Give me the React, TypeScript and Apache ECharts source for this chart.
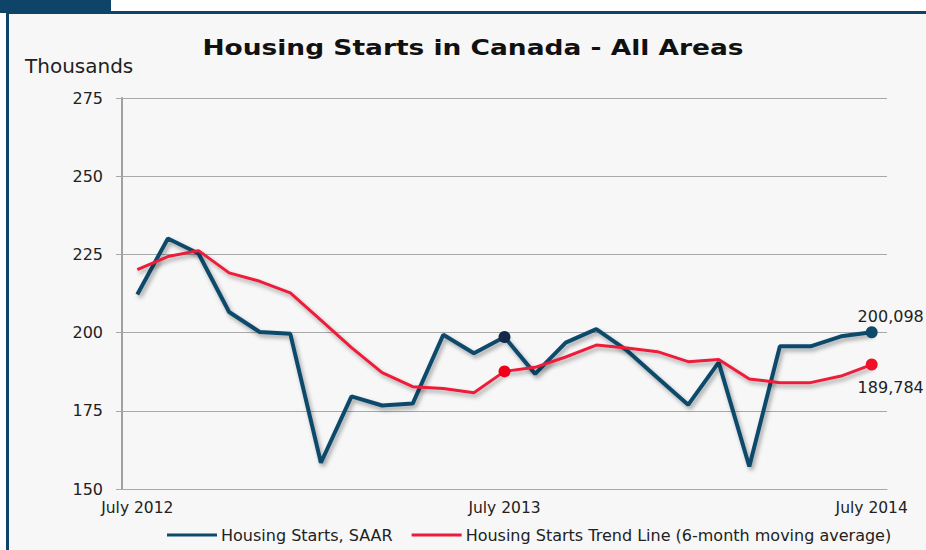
import React, { useEffect, useRef } from "react";
import * as echarts from "echarts";

const months = ["July", "Aug", "Sep", "Oct", "Nov", "Dec", "Jan", "Feb", "Mar", "Apr", "May", "June"];
const categories: string[] = [];
for (let i = 0; i < 25; i++) {
  const m = i % 12;
  const y = 2012 + Math.floor((i + 6) / 12);
  categories.push(`${months[m]} ${y}`);
}

const saar = [212.2, 230.1, 225.3, 206.6, 200.2, 199.6, 158.4, 179.6, 176.7, 177.3, 199.3, 193.4, 198.6, 186.8, 196.8, 201.1, 194.3, 185.6, 176.9, 190.5, 157.2, 195.6, 195.6, 198.8, 200.098];
const trend = [220.1, 224.3, 226.2, 219.1, 216.4, 212.7, 204.0, 195.2, 187.2, 182.7, 182.1, 180.8, 187.6, 188.9, 192.2, 196.0, 195.1, 193.9, 190.7, 191.4, 185.2, 184.0, 184.0, 186.1, 189.784];

const markedIdx = [12, 24];
const FONT = "DejaVu Sans";
const BLUE = "#0e4a6b";
const RED = "#ee1b3a";

const fmt = (v: number) => Math.round(v * 1000).toLocaleString("en-US");

function buildData(vals: number[], dotColors: string[], labelPos: "top" | "bottom") {
  return vals.map((v, i) => {
    const k = markedIdx.indexOf(i);
    if (k < 0) return v;
    const item: any = {
      value: v,
      symbol: "circle",
      symbolSize: 12,
      itemStyle: { color: dotColors[k] },
    };
    if (i === vals.length - 1) {
      item.label = {
        show: true,
        position: labelPos,
        offset: [19, labelPos === "top" ? 3 : 4],
        formatter: () => fmt(v),
        fontFamily: FONT,
        fontSize: 16,
        color: "#222",
      };
    }
    return item;
  });
}

export default function App() {
  const ref = useRef<HTMLDivElement>(null);
  useEffect(() => {
    if (!ref.current) return;
    const chart = echarts.init(ref.current, null, { renderer: "svg" });
    const shadow = {
      shadowColor: "rgba(0,0,0,0.35)",
      shadowBlur: 4,
      shadowOffsetX: 2,
      shadowOffsetY: 3,
    };
    chart.setOption({
      animation: false,
      backgroundColor: "#ffffff",
      graphic: [
        { type: "rect", z: -10, shape: { x: 7, y: 12, width: 930, height: 550 }, style: { fill: "#f7f7f7" }, silent: true },
        { type: "rect", z: -9, shape: { x: 0, y: 0, width: 111, height: 13 }, style: { fill: "#0d4468" }, silent: true },
        { type: "rect", z: -9, shape: { x: 6, y: 11, width: 930, height: 3 }, style: { fill: "#0d4468" }, silent: true },
        { type: "rect", z: -9, shape: { x: 6, y: 11, width: 3, height: 560 }, style: { fill: "#0d4468" }, silent: true },
        {
          type: "text",
          x: 473,
          y: 48,
          scaleX: 1.26,
          style: {
            text: "Housing Starts in Canada - All Areas",
            fontFamily: FONT,
            fontWeight: "bold",
            fontSize: 21,
            fill: "#111",
            textAlign: "center",
            textVerticalAlign: "middle",
          },
        },
        {
          type: "text",
          x: 25,
          y: 66,
          style: {
            text: "Thousands",
            fontFamily: FONT,
            fontSize: 20,
            fill: "#222",
            textAlign: "left",
            textVerticalAlign: "middle",
          },
        },
      ],
      grid: { left: 122, right: 39, top: 98, bottom: 61, containLabel: false },
      legend: {
        left: 162,
        bottom: 2,
        icon: "rect",
        itemWidth: 50,
        itemHeight: 3,
        itemGap: 19,
        textStyle: { fontFamily: FONT, fontSize: 16, color: "#222", padding: [0, 0, 0, -1] },
        data: [
          { name: "Housing Starts, SAAR", itemStyle: { color: BLUE } },
          { name: "Housing Starts Trend Line (6-month moving average)", itemStyle: { color: RED } },
        ],
      },
      xAxis: {
        type: "category",
        data: categories,
        boundaryGap: true,
        axisLine: { show: true, lineStyle: { color: "#a8a8a8", width: 1 } },
        axisTick: { show: false },
        axisLabel: {
          interval: 11,
          margin: 11,
          fontFamily: FONT,
          fontSize: 15.5,
          color: "#222",
        },
      },
      yAxis: {
        type: "value",
        min: 150,
        max: 275,
        interval: 25,
        axisLine: { show: true, lineStyle: { color: "#a0a0a0", width: 2 } },
        axisTick: { show: true, length: 6, lineStyle: { color: "#a8a8a8" } },
        splitLine: { show: true, lineStyle: { color: "#a8a8a8", width: 1 } },
        axisLabel: {
          margin: 19,
          fontFamily: FONT,
          fontSize: 16,
          color: "#222",
        },
      },
      series: [
        {
          name: "Housing Starts, SAAR",
          type: "line",
          symbol: "none",
          data: buildData(saar, ["#12294a", BLUE], "top"),
          color: BLUE,
          lineStyle: { color: BLUE, width: 4, ...shadow },
          z: 3,
        },
        {
          name: "Housing Starts Trend Line (6-month moving average)",
          type: "line",
          symbol: "none",
          data: buildData(trend, ["#f00018", "#f0102a"], "bottom"),
          color: RED,
          lineStyle: { color: RED, width: 3, ...shadow },
          z: 4,
        },
      ],
    });
    return () => chart.dispose();
  }, []);
  return (
    <div
      ref={ref}
      style={{ position: "fixed", left: 0, top: 0, width: 926, height: 550 }}
    />
  );
}
